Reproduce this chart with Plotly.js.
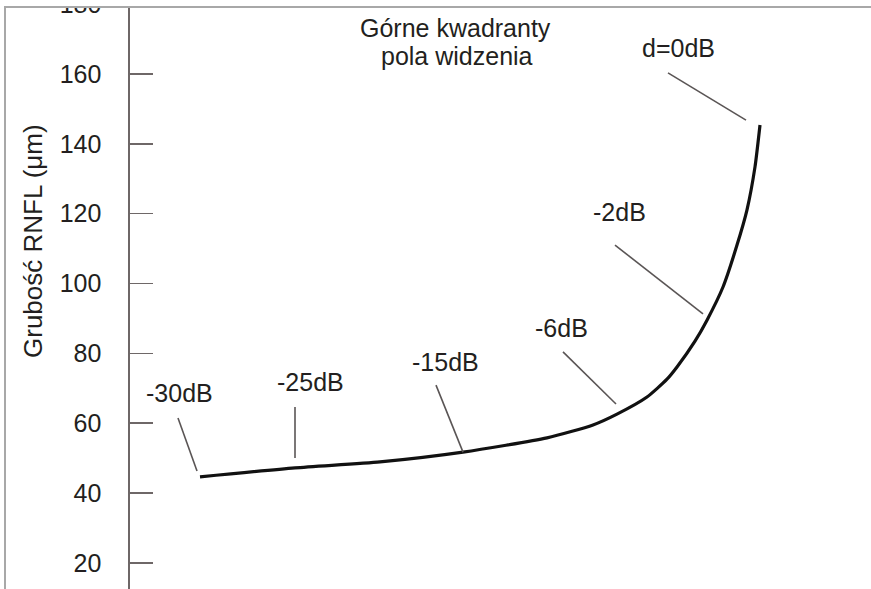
<!DOCTYPE html>
<html>
<head>
<meta charset="utf-8">
<script src="https://cdn.plot.ly/plotly-3.0.1.min.js"></script>
<style>
html,body{margin:0;padding:0;background:#fff;}
#wrap{position:relative;width:871px;height:589px;overflow:hidden;}
#chart{width:871px;height:589px;}
#outside{position:absolute;left:0;top:0;width:871px;height:6px;background:#fff;z-index:5;}
#frameTop{position:absolute;left:4px;top:6px;width:867px;height:2px;background:#a8a8a8;z-index:6;}
#frameLeft{position:absolute;left:4px;top:6px;width:2px;height:583px;background:#a8a8a8;z-index:6;}
</style>
</head>
<body>
<div id="wrap">
<div id="chart"></div>
<div id="outside"></div>
<div id="frameTop"></div>
<div id="frameLeft"></div>
</div>
<script>
// Curve: position along the (unlabelled) horizontal axis and RNFL thickness (µm)
const curveX = [70, 165, 250, 333, 417, 463, 487, 517, 537, 547, 565, 577, 593, 607, 617, 625, 630];
const curveY = [44.6, 47.2, 48.9, 51.7, 55.8, 59.5, 62.6, 67.5, 72.6, 76.1, 83.5, 89.5, 99.0, 111.0, 121.1, 133.4, 145.4];

// Y tick labels
const yTickVals = [20, 40, 60, 80, 100, 120, 140, 160, 180];
const yTickText = ['20', '40', '60', '80', '100', '120', '140', '160', '180'];

// Sensitivity labels (dB) with their anchor points and leader lines
const dbLabels = ['d=0dB', '-2dB', '-6dB', '-15dB', '-25dB', '-30dB'];
const dbLabelX = [548, 489, 431, 315, 180, 49];
const dbLabelY = [167.4, 120.5, 87.3, 77.5, 71.8, 68.6];
const leaderX0 = [538, 485, 433, 306, 165, 48];
const leaderY0 = [160.3, 111.0, 80.4, 70.9, 64.6, 61.5];
const leaderX1 = [616, 573, 486, 333, 165, 67];
const leaderY1 = [146.8, 91.3, 65.5, 51.7, 50.0, 46.3];

// Heading lines
const headingLines = ['Górne kwadranty', 'pola widzenia'];
const headingX = [325.5, 326.7];
const headingY = [173.2, 165.2];

const yTitle = 'Grubość RNFL (μm)';

const FONT = 'Liberation Sans, Arial, Helvetica, sans-serif';
const TXT = '#231f20';

const annotations = [];
dbLabels.forEach((t, i) => annotations.push({
  x: dbLabelX[i], y: dbLabelY[i], xref: 'x', yref: 'y', text: t, showarrow: false,
  xanchor: 'center', yanchor: 'middle', font: {family: FONT, size: 25, color: TXT}
}));
headingLines.forEach((t, i) => annotations.push({
  x: headingX[i], y: headingY[i], xref: 'x', yref: 'y', text: t, showarrow: false,
  xanchor: 'center', yanchor: 'middle', font: {family: FONT, size: 25, color: TXT}
}));
annotations.push({
  x: (33 - 130) / 741, y: 1 - 241 / 589, xref: 'paper', yref: 'paper', text: yTitle,
  textangle: -90, showarrow: false, xanchor: 'center', yanchor: 'middle',
  font: {family: FONT, size: 26, color: TXT}
});

const shapes = [];
leaderX0.forEach((_, i) => shapes.push({
  type: 'line', xref: 'x', yref: 'y', x0: leaderX0[i], y0: leaderY0[i], x1: leaderX1[i], y1: leaderY1[i],
  line: {color: '#5a5555', width: 1.6}
}));

const data = [{
  type: 'scatter', mode: 'lines', x: curveX, y: curveY,
  line: {color: '#111111', width: 3.2, shape: 'spline', smoothing: 0.6},
  hoverinfo: 'skip'
}];

const layout = {
  width: 871, height: 589,
  margin: {l: 130, r: 0, t: 0, b: 0, pad: 0},
  paper_bgcolor: '#ffffff', plot_bgcolor: '#ffffff',
  showlegend: false,
  xaxis: {range: [0, 741], visible: false, fixedrange: true},
  yaxis: {
    range: [12.51, 181.19], showline: true, linecolor: '#6e6767', linewidth: 1.6,
    ticks: 'inside', ticklen: 23, tickwidth: 1.6, tickcolor: '#6e6767',
    tickmode: 'array', tickvals: yTickVals, ticktext: yTickText,
    tickfont: {family: FONT, size: 25, color: TXT},
    ticklabelstandoff: 22, ticklabeloverflow: 'allow',
    showgrid: false, zeroline: false, fixedrange: true
  },
  annotations: annotations,
  shapes: shapes
};

Plotly.newPlot('chart', data, layout, {displayModeBar: false, staticPlot: true});
</script>
</body>
</html>
